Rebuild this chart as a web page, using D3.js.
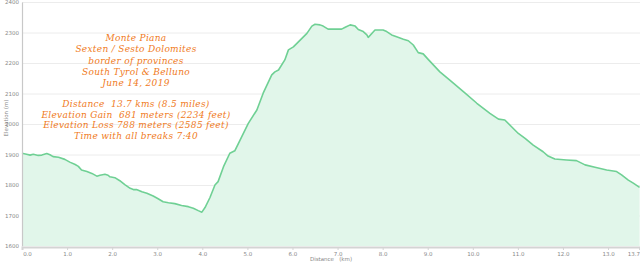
<!DOCTYPE html>
<html>
<head>
<meta charset="utf-8">
<title>Monte Piana elevation profile</title>
<style>
  body { margin: 0; background: #fff; }
  svg { display: block; }
</style>
</head>
<body>
<svg></svg>
<script src="https://d3js.org/d3.v7.min.js"></script>
<script>
// distance along the track (km) and elevation (m)
var distKm = [0.00, 0.10, 0.18, 0.25, 0.36, 0.44, 0.55, 0.62, 0.69, 0.81, 0.95, 1.06, 1.18, 1.25, 1.32, 1.44,
  1.55, 1.66, 1.73, 1.84, 1.91, 1.95, 2.06, 2.17, 2.28, 2.40, 2.47, 2.54, 2.66, 2.77, 2.91, 3.02,
  3.13, 3.25, 3.39, 3.54, 3.69, 3.80, 3.91, 3.99, 4.06, 4.17, 4.28, 4.35, 4.47, 4.61, 4.72, 4.84,
  5.02, 5.21, 5.35, 5.54, 5.61, 5.69, 5.83, 5.91, 6.02, 6.17, 6.32, 6.43, 6.50, 6.61, 6.68, 6.79,
  6.94, 7.09, 7.17, 7.28, 7.39, 7.46, 7.57, 7.65, 7.68, 7.76, 7.83, 8.01, 8.09, 8.20, 8.31, 8.46,
  8.57, 8.68, 8.79, 8.90, 9.01, 9.27, 9.49, 9.83, 10.09, 10.38, 10.57, 10.71, 10.86, 11.01, 11.16,
  11.34, 11.56, 11.67, 11.82, 12.08, 12.30, 12.49, 12.71, 12.97, 13.19, 13.30, 13.45, 13.56, 13.70];
var elevM = [1904, 1901, 1898, 1901, 1897, 1898, 1903, 1899, 1893, 1891, 1884, 1875, 1867, 1861, 1849, 1844,
  1838, 1829, 1832, 1835, 1832, 1827, 1824, 1814, 1801, 1789, 1785, 1785, 1778, 1773, 1764, 1755,
  1745, 1742, 1739, 1733, 1729, 1724, 1716, 1711, 1726, 1759, 1800, 1811, 1860, 1904, 1912, 1948,
  2002, 2046, 2101, 2161, 2171, 2177, 2210, 2243, 2253, 2275, 2297, 2321, 2327, 2325, 2321, 2311,
  2311, 2311, 2317, 2325, 2321, 2310, 2303, 2292, 2284, 2297, 2308, 2308, 2303, 2292, 2286, 2278,
  2273, 2259, 2234, 2230, 2212, 2171, 2144, 2101, 2068, 2035, 2016, 2013, 1991, 1969, 1953,
  1931, 1909, 1895, 1885, 1882, 1880, 1866, 1858, 1849, 1844, 1833, 1816, 1806, 1792];

var xTicks = [0, 1, 2, 3, 4, 5, 6, 7, 8, 9, 10, 11, 12, 13, 13.7];
var yTicks = [1600, 1700, 1800, 1900, 2000, 2100, 2200, 2300, 2400];

var titleLines = ["Monte Piana", "Sexten / Sesto Dolomites", "border of provinces",
  "South Tyrol & Belluno", "June 14, 2019"];
var statLines = ["Distance  13.7 kms (8.5 miles)", "Elevation Gain  681 meters (2234 feet)",
  "Elevation Loss 788 meters (2585 feet)", "Time with all breaks 7:40"];

var width = 640, height = 263;
var data = distKm.map((d, i) => ({ km: d, ele: elevM[i] }));

var svg = d3.select('svg').attr('width', width).attr('height', height);

var x = d3.scaleLinear().domain([0, 13.7]).range([22, 639.6]);
var y = d3.scaleLinear().domain([1600, 2400]).range([246, 2]);

// horizontal grid
svg.append('g').selectAll('line').data(yTicks.slice(1)).join('line')
  .attr('x1', 22).attr('x2', width)
  .attr('y1', d => y(d) + 0.5).attr('y2', d => y(d) + 0.5)
  .attr('stroke', '#ececec');

// area + line
var area = d3.area().x(d => x(d.km)).y0(y(1600)).y1(d => y(d.ele));
svg.append('path').attr('d', area(data)).attr('fill', '#e1f6ea');

var line = d3.line().x(d => x(d.km)).y(d => y(d.ele));
svg.append('path').attr('d', line(data))
  .attr('fill', 'none')
  .attr('stroke', '#6fd094')
  .attr('stroke-width', 1.6)
  .attr('stroke-linejoin', 'round');

// y axis
var yAxis = svg.append('g').attr('transform', 'translate(22,0)')
  .call(d3.axisLeft(y).tickValues(yTicks).tickSize(0).tickPadding(3).tickFormat(d3.format('d')));
yAxis.select('.domain').attr('stroke', '#c8c8c8').attr('stroke-width', 1.2);
yAxis.selectAll('text').attr('fill', '#888').style('font', '5.5px "DejaVu Sans"');

// x axis
var xAxis = svg.append('g').attr('transform', 'translate(0,' + (y(1600) + 1) + ')')
  .call(d3.axisBottom(x).tickValues(xTicks).tickSize(3).tickPadding(2).tickFormat(d3.format('.1f')));
xAxis.select('.domain').attr('stroke', '#d4d4d4').attr('stroke-width', 2);
xAxis.selectAll('.tick line').attr('stroke', '#d4d4d4');
xAxis.selectAll('text').attr('fill', '#888').style('font', '5.5px "DejaVu Sans"');
xAxis.selectAll('.tick').filter(d => d === 0).select('text').attr('dx', 5);
xAxis.selectAll('.tick').filter(d => d === 13.7).select('text')
  .attr('text-anchor', 'end').attr('dx', 0);

svg.append('text').attr('x', 331).attr('y', 261).attr('text-anchor', 'middle')
  .attr('fill', '#888').style('font', '5.5px "DejaVu Sans"')
  .attr('xml:space', 'preserve').text('Distance   (km)');

svg.append('text').attr('transform', 'translate(8,118) rotate(-90)')
  .attr('text-anchor', 'middle').attr('fill', '#888').style('font', '5.5px "DejaVu Sans"')
  .text('Elevation (m)');

// annotation text
var note = svg.append('g').attr('fill', '#f07a22')
  .style('font', 'italic 9px "DejaVu Serif"').style('letter-spacing', '0.3px')
  .attr('text-anchor', 'middle');
note.selectAll('text.t').data(titleLines).join('text').attr('class', 't')
  .attr('x', 136).attr('y', (d, i) => 41 + i * 11.3)
  .attr('xml:space', 'preserve').text(d => d);
note.selectAll('text.s').data(statLines).join('text').attr('class', 's')
  .attr('x', 136).attr('y', (d, i) => 107 + i * 10.5)
  .attr('xml:space', 'preserve').text(d => d);
</script>
</body>
</html>
